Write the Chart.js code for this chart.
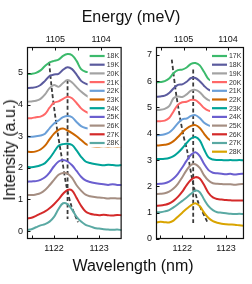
<!DOCTYPE html>
<html><head><meta charset="utf-8">
<script src="https://cdn.jsdelivr.net/npm/chart.js@4.4.1/dist/chart.umd.min.js"></script>
<style>
html,body{margin:0;padding:0;background:#fff;width:252px;height:284px;overflow:hidden;font-family:'Liberation Sans',Arial,sans-serif;}
#wrap{position:relative;width:252px;height:284px;overflow:hidden;}
canvas{position:absolute;top:0;}
#c1{left:0;}
#c2{left:126px;}
.t{position:absolute;white-space:nowrap;color:#111;font-size:16px;line-height:16px;}
</style></head><body>
<div id="wrap">
<canvas id="c1" width="126" height="262"></canvas>
<canvas id="c2" width="126" height="262"></canvas>
<div class="t" style="left:0;width:262px;text-align:center;top:9px;">Energy (meV)</div>
<div class="t" style="left:0;width:266px;text-align:center;top:258px;">Wavelength (nm)</div>
<div class="t" style="left:9.5px;top:150px;transform:translate(-50%,-50%) rotate(-90deg);">Intensity (a.u.)</div>
</div>
<script>
// ---------- data ----------
const wavelengths = [1121.4,1121.5,1121.6,1121.7,1121.8,1121.9,1122.0,1122.1,1122.2,1122.3,1122.4,1122.5,1122.6,1122.7,1122.8,1122.9,1123.0,1123.1,1123.2,1123.3,1123.4,1123.5];

const leftLabels  = ['18K','19K','20K','21K','22K','23K','24K','25K','26K','27K','28K'];
const rightLabels = ['17K','18K','19K','20K','21K','22K','23K','24K','25K','26K','27K','28K'];
const palette = ['#3cba6c','#5b5b9e','#a3a3a3','#ff6868','#6a9fd8','#cc6600','#00a398','#6b5fcf','#a58e82','#d42a2a','#5aa9a3','#d9a400'];

// left panel (18K..28K), offset spectra
const L18K = [4.96,4.97,5.00,5.08,5.22,5.33,5.38,5.42,5.54,5.60,5.56,5.38,5.12,5.04,5.03,5.02,5.03,5.01,5.02,5.00,5.01,5.00];
const L19K = [4.52,4.53,4.55,4.62,4.75,4.90,4.95,4.97,5.10,5.18,5.12,4.95,4.75,4.66,4.62,4.60,4.60,4.58,4.60,4.58,4.57,4.58];
const L20K = [4.09,4.10,4.12,4.18,4.32,4.52,4.62,4.56,4.68,4.78,4.70,4.55,4.41,4.30,4.22,4.20,4.20,4.18,4.20,4.19,4.18,4.20];
const L21K = [3.57,3.57,3.60,3.62,3.70,3.90,4.06,4.10,4.18,4.25,4.20,4.05,3.88,3.78,3.72,3.70,3.70,3.68,3.70,3.69,3.68,3.70];
const L22K = [2.98,2.98,3.00,3.02,3.08,3.25,3.40,3.50,3.60,3.64,3.60,3.45,3.32,3.26,3.24,3.22,3.20,3.20,3.22,3.20,3.20,3.21];
const L23K = [2.51,2.50,2.52,2.58,2.70,2.90,3.08,3.20,3.24,3.18,3.10,3.00,2.88,2.76,2.70,2.67,2.66,2.68,2.66,2.68,2.66,2.68];
const L24K = [2.03,2.02,2.04,2.08,2.15,2.30,2.50,2.70,2.75,2.76,2.72,2.55,2.35,2.20,2.15,2.12,2.10,2.08,2.10,2.09,2.07,2.09];
const L25K = [1.56,1.57,1.58,1.62,1.70,1.85,2.05,2.20,2.25,2.20,2.08,1.90,1.72,1.60,1.55,1.52,1.50,1.48,1.46,1.48,1.46,1.46];
const L26K = [1.14,1.14,1.16,1.20,1.30,1.45,1.62,1.78,1.84,1.82,1.68,1.45,1.28,1.15,1.10,1.08,1.06,1.05,1.03,1.04,1.03,1.03];
const L27K = [0.40,0.42,0.48,0.55,0.62,0.72,0.85,1.00,1.18,1.30,1.28,1.05,0.80,0.62,0.55,0.52,0.50,0.52,0.50,0.49,0.51,0.50];
const L28K = [0.03,0.06,0.12,0.18,0.22,0.30,0.45,0.70,0.88,0.85,0.68,0.45,0.30,0.20,0.15,0.10,0.08,0.06,0.05,0.04,0.05,0.03];

// right panel (17K..28K)
const R17K = [5.96,5.97,6.00,6.10,6.30,6.42,6.44,6.52,6.66,6.69,6.60,6.35,6.08,6.00,5.98,5.97,5.96,5.97,5.96,5.97,5.96];
const R18K = [5.41,5.42,5.45,5.55,5.72,5.86,5.88,5.98,6.12,6.12,6.00,5.82,5.68,5.62,5.60,5.60,5.60,5.60,5.60,5.60,5.60];
const R19K = [4.90,4.91,4.95,5.05,5.35,5.42,5.40,5.50,5.64,5.67,5.58,5.40,5.28,5.24,5.22,5.22,5.22,5.22,5.22,5.22,5.22];
const R20K = [4.48,4.48,4.50,4.60,4.85,5.10,5.20,5.22,5.29,5.28,5.15,4.98,4.88,4.85,4.84,4.84,4.84,4.84,4.84,4.84,4.84];
const R21K = [3.95,3.95,3.98,4.05,4.20,4.40,4.55,4.58,4.68,4.71,4.60,4.42,4.32,4.28,4.26,4.26,4.26,4.26,4.26,4.26,4.26];
const R22K = [3.56,3.56,3.58,3.62,3.72,3.88,4.05,4.20,4.30,4.33,4.22,4.00,3.80,3.72,3.70,3.69,3.69,3.69,3.69,3.69,3.69];
const R23K = [3.04,3.04,3.05,3.08,3.15,3.28,3.45,3.65,3.82,3.88,3.75,3.40,3.10,3.02,3.00,3.00,2.99,3.00,2.99,3.00,2.99];
const R24K = [2.09,2.10,2.12,2.18,2.30,2.48,2.72,2.98,3.20,3.30,3.15,2.85,2.62,2.52,2.50,2.48,2.46,2.48,2.45,2.47,2.48];
const R25K = [1.71,1.72,1.74,1.80,1.92,2.10,2.35,2.62,2.82,2.84,2.70,2.42,2.22,2.12,2.10,2.09,2.08,2.08,2.06,2.08,2.09];
const R26K = [1.26,1.27,1.30,1.35,1.45,1.60,1.80,2.05,2.25,2.35,2.30,2.05,1.75,1.58,1.52,1.50,1.48,1.47,1.46,1.46,1.46];
const R27K = [1.01,1.02,1.05,1.10,1.20,1.32,1.45,1.58,1.72,1.84,1.78,1.50,1.25,1.10,1.02,1.00,0.98,0.96,0.95,0.96,0.95];
const R28K = [0.62,0.66,0.64,0.63,0.70,0.85,1.00,1.15,1.28,1.36,1.25,1.00,0.80,0.68,0.62,0.58,0.56,0.55,0.54,0.52,0.50];

// dashed peak-tracking guides
const leftGuideA_x  = [1121.89,1121.96,1122.07,1122.18,1122.27,1122.38,1122.53];
const leftGuideA_y  = [5.35,4.37,3.20,2.25,1.46,0.82,0.28];
const leftGuideB_x  = [1122.30,1122.30];
const leftGuideB_y  = [4.78,0.38];
const rightGuideA_x = [1121.76,1121.87,1122.02,1122.11,1122.22,1122.35,1122.57];
const rightGuideA_y = [6.82,5.40,3.98,3.37,2.34,1.46,0.65];
const rightGuideB_x = [1122.25,1122.25];
const rightGuideB_y = [6.44,0.60];

// tick labels
const waveTicks   = [1121.5,1122,1122.5,1123];
const energyTicks = [1105.5,1105,1104.5,1104,1103.5];
const yTicksLeft  = [0,1,2,3,4,5];
const yTicksRight = [0,1,2,3,4,5,6,7];

const HC = 1239841.98; // meV*nm
const FF = "'Liberation Sans', Arial, sans-serif";

// ---------- helpers ----------
function curveSets(series, labels){
  return series.map((vals,i)=>({
    label:labels[i],
    data: vals.map((v,j)=>({x:wavelengths[j], y:v})),
    borderColor: palette[i], borderWidth:2, pointRadius:0, tension:0.35, fill:false
  }));
}
function guideSet(xs, ys){
  return {label:'', isGuide:true, data: xs.map((x,j)=>({x:x, y:ys[j]})),
    borderColor:'#3a3a3a', borderWidth:1.8, borderDash:[4,2.5], pointRadius:0, tension:0.3, fill:false};
}

const framePlugin = {
  id:'frameLegend',
  afterDatasetsDraw(chart){
    const ctx = chart.ctx, ca = chart.chartArea;
    const sets = chart.data.datasets.filter(d=>!d.isGuide);
    const sp = 8.7, y0 = ca.top + 9;
    const bx = ca.right - 34;
    ctx.save();
    ctx.fillStyle = '#fff';
    ctx.fillRect(bx, ca.top+1, ca.right-bx, y0 + (sets.length-1)*sp + 3.5 - ca.top);
    ctx.font = '7px ' + FF;
    ctx.textBaseline = 'middle';
    sets.forEach((d,i)=>{
      const y = y0 + i*sp;
      ctx.strokeStyle = d.borderColor; ctx.lineWidth = 2.2;
      ctx.beginPath(); ctx.moveTo(ca.right-32, y); ctx.lineTo(ca.right-17, y); ctx.stroke();
      ctx.fillStyle = '#333';
      ctx.fillText(d.label, ca.right-15, y+0.5);
    });
    ctx.restore();
  },
  afterDraw(chart){
    const ctx = chart.ctx, ca = chart.chartArea;
    ctx.save();
    ctx.strokeStyle = '#111'; ctx.lineWidth = 1.2;
    ctx.strokeRect(ca.left+0.5, ca.top+0.5, ca.right-ca.left-1, ca.bottom-ca.top-1);
    ctx.lineWidth = 1;
    const sx = chart.scales.x, sx2 = chart.scales.x2, sy = chart.scales.y;
    ctx.beginPath();
    sx.ticks.forEach(t=>{ const p = Math.round(sx.getPixelForValue(t.value))+0.5; ctx.moveTo(p, ca.bottom); ctx.lineTo(p, ca.bottom-3.5); });
    sx2.ticks.forEach(t=>{ const p = Math.round(sx2.getPixelForValue(t.value))+0.5; if(p>ca.left+1 && p<ca.right-1){ ctx.moveTo(p, ca.top); ctx.lineTo(p, ca.top+3.5);} });
    sy.ticks.forEach(t=>{ const p = Math.round(sy.getPixelForValue(t.value))+0.5; ctx.moveTo(ca.left, p); ctx.lineTo(ca.left+3.5, p); });
    ctx.stroke();
    ctx.restore();
  }
};

function makeChart(id, series, labels, guides, xmax, ymin, ymax, yTicks, yWidth, padRight){
  const datasets = curveSets(series, labels).concat(guides);
  const tickFont = {size:9, family:FF};
  return new Chart(document.getElementById(id), {
    type:'line',
    data:{datasets},
    plugins:[framePlugin],
    options:{
      responsive:false, animation:false, devicePixelRatio:1,
      layout:{padding:{left:0,right:padRight,top:0,bottom:0}},
      plugins:{legend:{display:false}, tooltip:{enabled:false}},
      scales:{
        x:{type:'linear', position:'bottom', min:1121.4, max:xmax,
          afterBuildTicks:s=>{ s.ticks = waveTicks.map(v=>({value:v})); },
          afterFit:s=>{ s.height = 23; },
          grid:{display:false, drawTicks:false}, border:{display:false},
          ticks:{autoSkip:false, maxRotation:0, padding:4, color:'#111', font:tickFont,
            callback:v=> Number.isInteger(v) ? String(v) : ''}},
        x2:{type:'linear', position:'top', min:1121.4, max:xmax,
          afterBuildTicks:s=>{ s.ticks = energyTicks.map(e=>({value:HC/e})); },
          afterFit:s=>{ s.height = 47; },
          grid:{display:false, drawTicks:false}, border:{display:false},
          ticks:{autoSkip:false, maxRotation:0, padding:2, color:'#111', font:tickFont,
            callback:v=>{ const e = Math.round(HC/v*2)/2; return Number.isInteger(e) ? String(e) : ''; }}},
        y:{type:'linear', position:'left', min:ymin, max:ymax,
          afterBuildTicks:s=>{ s.ticks = yTicks.map(v=>({value:v})); },
          afterFit:s=>{ s.width = yWidth; },
          grid:{display:false, drawTicks:false}, border:{display:false},
          ticks:{autoSkip:false, padding:4, color:'#111', font:tickFont}}
      }
    }
  });
}

makeChart('c1',
  [L18K,L19K,L20K,L21K,L22K,L23K,L24K,L25K,L26K,L27K,L28K], leftLabels,
  [guideSet(leftGuideA_x,leftGuideA_y), guideSet(leftGuideB_x,leftGuideB_y)],
  1123.5, -0.25, 5.82, yTicksLeft, 27, 3);
makeChart('c2',
  [R17K,R18K,R19K,R20K,R21K,R22K,R23K,R24K,R25K,R26K,R27K,R28K], rightLabels,
  [guideSet(rightGuideA_x,rightGuideA_y), guideSet(rightGuideB_x,rightGuideB_y)],
  1123.41, 0, 7.3, yTicksRight, 30, 4);
</script>
</body></html>
